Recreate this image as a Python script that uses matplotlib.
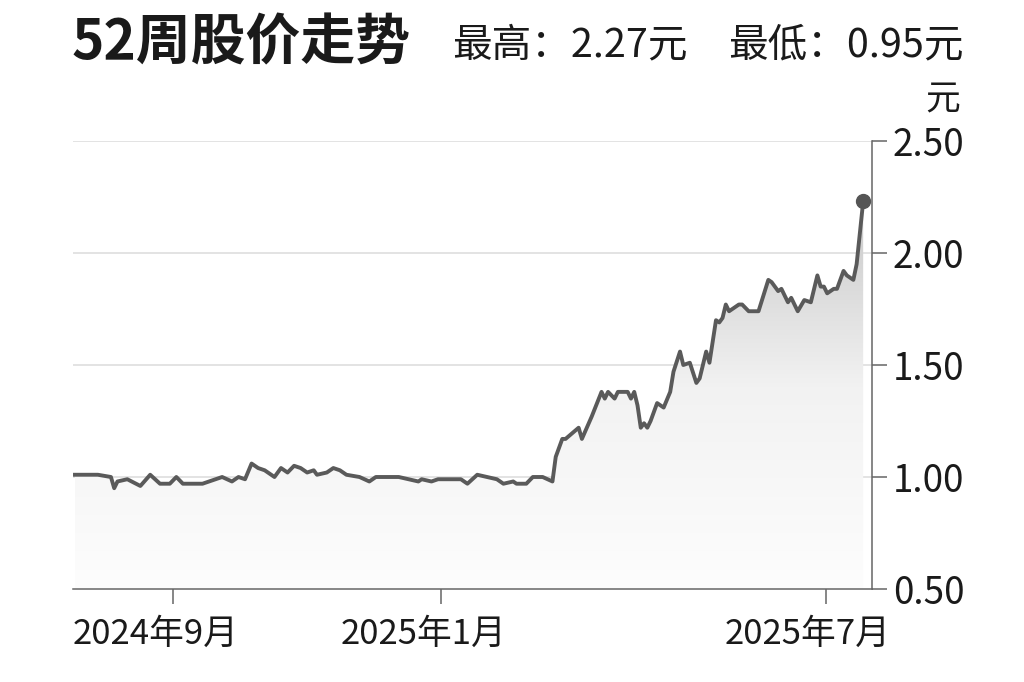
import numpy as np
import matplotlib
matplotlib.use("Agg")
import matplotlib.pyplot as plt
from matplotlib.patches import Polygon
from matplotlib.transforms import ScaledTranslation

plt.rcParams['font.family'] = ['Noto Sans CJK SC', 'DejaVu Sans']

# 交易日序号与收盘价
day = [0, 7, 11, 12, 13, 16, 20, 23, 26, 29, 31, 33, 39, 41, 43, 45, 48, 50, 52, 54,
       56, 58, 61, 63, 65, 67, 69, 71, 73, 74, 77, 79, 81, 83, 87, 90, 92, 99, 102, 105,
       106, 109, 111, 118, 120, 123, 126, 129, 131, 134, 135, 138, 140, 143, 146, 147, 149, 150, 154, 155,
       158, 161, 162, 163, 165, 166, 169, 170, 171, 172, 173, 174, 175, 176, 178, 180, 182, 183, 185, 186,
       188, 190, 191, 193, 194, 196, 197, 198, 199, 200, 203, 204, 206, 209, 212, 213, 215, 216, 218, 219,
       221, 223, 225, 227, 228, 229, 230, 232, 233, 235, 236, 238, 239, 241]
price = [1.01, 1.01, 1.00, 0.95, 0.98, 0.99, 0.96, 1.01, 0.97, 0.97, 1.00, 0.97, 0.97, 0.98, 0.99, 1.00, 0.98, 1.00, 0.99, 1.06,
         1.04, 1.03, 1.00, 1.04, 1.02, 1.05, 1.04, 1.02, 1.03, 1.01, 1.02, 1.04, 1.03, 1.01, 1.00, 0.98, 1.00, 1.00, 0.99, 0.98,
         0.99, 0.98, 0.99, 0.99, 0.97, 1.01, 1.00, 0.99, 0.97, 0.98, 0.97, 0.97, 1.00, 1.00, 0.98, 1.09, 1.17, 1.17, 1.22, 1.17,
         1.27, 1.38, 1.35, 1.38, 1.35, 1.38, 1.38, 1.35, 1.38, 1.32, 1.22, 1.24, 1.22, 1.25, 1.33, 1.31, 1.38, 1.47, 1.56, 1.50,
         1.51, 1.42, 1.44, 1.56, 1.51, 1.70, 1.69, 1.71, 1.77, 1.74, 1.77, 1.77, 1.74, 1.74, 1.88, 1.87, 1.83, 1.84, 1.78, 1.80,
         1.74, 1.79, 1.78, 1.90, 1.85, 1.85, 1.82, 1.84, 1.84, 1.92, 1.90, 1.88, 1.95, 2.23]

tick_days = [30, 112, 229.5]
tick_labels = ["2024年9月", "2025年1月", "2025年7月"]
y_ticks = [0.5, 1.0, 1.5, 2.0, 2.5]

fig = plt.figure(figsize=(10.24, 6.82), dpi=100)
ax = fig.add_axes([73/1024, 93/682, 799/1024, 448/682])
ax.set_xlim(-0.6, 243.7)
ax.set_ylim(0.5, 2.5)

# 网格线
for v in y_ticks[1:]:
    ax.axhline(v, color="#dedede", lw=1.2, zorder=1)

# 渐变填充
grad = np.linspace(0, 1, 256).reshape(-1, 1)
cmap = matplotlib.colors.LinearSegmentedColormap.from_list("g", ["#fdfdfd", "#f2f2f2", "#c4c4c4"])
im = ax.imshow(grad, cmap=cmap, aspect="auto", origin="lower",
               extent=[day[0], day[-1], 0.5, 2.3], zorder=2)
poly = Polygon(list(zip(day, price)) + [(day[-1], 0.5), (day[0], 0.5)], closed=True,
               facecolor="none", edgecolor="none")
ax.add_patch(poly)
im.set_clip_path(poly)

ax.plot(day, price, color="#5a5a5a", lw=2.8, zorder=3, solid_joinstyle="round")
ax.plot(day[-1], price[-1], "o", color="#555555", ms=10, zorder=4)

for s in ["top", "left"]:
    ax.spines[s].set_visible(False)
for s in ["right", "bottom"]:
    ax.spines[s].set_color("#666666")
    ax.spines[s].set_linewidth(1.1)

ax.yaxis.tick_right()
ax.set_yticks(y_ticks)
ax.set_yticklabels([f"{v:.2f}" for v in y_ticks])
ax.set_xticks(tick_days)
ax.set_xticklabels(tick_labels)
ax.tick_params(axis="y", length=11, width=1.1, color="#666666", pad=4, labelsize=26.5, labelcolor="#1a1a1a")
ax.tick_params(axis="x", length=11, width=1.1, color="#666666", pad=9, labelsize=25, labelcolor="#1a1a1a")
# 日期标签略向左偏
shift = ScaledTranslation(-18 / 100, 0, fig.dpi_scale_trans)
for lab in ax.get_xticklabels():
    lab.set_transform(lab.get_transform() + shift)

fig.text(72/1024, 1 - 43/682, "52周股价走势", fontsize=39.5, fontweight="heavy", color="#1a1a1a", va="center", ha="left")
fig.text(452/1024, 1 - 45/682, "最高：2.27元", fontsize=28.5, color="#1a1a1a", va="center", ha="left")
fig.text(728/1024, 1 - 45/682, "最低：0.95元", fontsize=28.5, color="#1a1a1a", va="center", ha="left")
fig.text(943/1024, 1 - 100/682, "元", fontsize=25, color="#1a1a1a", va="center", ha="center")

fig.savefig("out.png", dpi=100, facecolor="white")
